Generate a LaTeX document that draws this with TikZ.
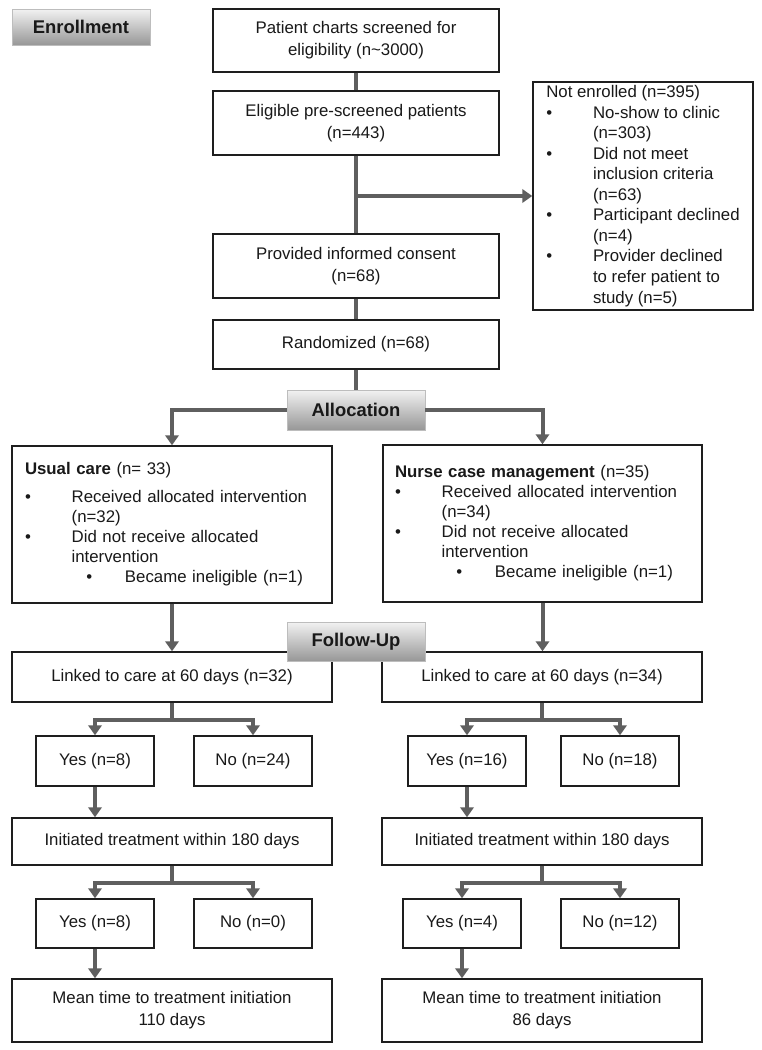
\documentclass[tikz,border=0pt]{standalone}
\usepackage{fontspec}
\setmainfont{Liberation Sans}
\usetikzlibrary{arrows.meta, positioning, calc}
\definecolor{linkgray}{HTML}{5F5F5F}
\definecolor{boxline}{HTML}{1E1E1E}
\definecolor{headtop}{HTML}{F2F2F2}
\definecolor{headbot}{HTML}{979797}
\definecolor{headline}{HTML}{BDBDBD}
\newcommand{\bitem}{\makebox[35pt][l]{•}}
\newcommand{\bcont}{\hspace*{35pt}}
\newcommand{\bsub}{\hspace*{46pt}\makebox[29pt][l]{•}}
\tikzset{
  flow/.style={
	x=0.75pt, y=-0.75pt, % one unit is one pixel of the sketch
	every node/.style={font=\fontsize{12.6}{16.5}\selectfont, text=black!90},
  },
  box/.style={draw=boxline, line width=1.1pt, fill=white, inner sep=0pt, align=center, minimum width=#1},
  box/.default=240pt,
  head/.style={draw=headline, line width=0.6pt, top color=headtop, bottom color=headbot, % grey stage labels
	font=\bfseries\fontsize{13.8}{16}\selectfont, inner sep=0pt, minimum width=103.5pt},
  conn/.style={draw=linkgray, line width=3pt},
  arr/.style={conn, -{Triangle[width=10pt,length=7.5pt]}}, % filled grey arrow heads
  bullets/.style={align=left, font=\fontsize{12.6}{15}\selectfont},
}

\begin{document}
\begin{tikzpicture}[flow]
\path[fill=white] (0,0) rectangle (762,1050);

% enrollment
\node[head, minimum height=27pt] (enroll) at (81,27) {Enrollment};
\node[box=214.5pt, minimum height=47.25pt] (screen) at (356,40.5) {Patient charts screened for\\eligibility (n\textasciitilde3000)};
\node[box=214.5pt, minimum height=48pt] (eligible) at (356,123) {Eligible pre-screened patients\\(n=443)};
\node[box=214.5pt, minimum height=48pt] (consent) at (356,266) {Provided informed consent\\(n=68)};
\node[box=214.5pt, minimum height=36.75pt] (random) at (356,344.5) {Randomized (n=68)};
\node[box=165pt, minimum height=171pt, align=left, font=\fontsize{12.6}{15.4}\selectfont] (notenr) at (643,196) {Not enrolled (n=395)\\
	\bitem No-show to clinic\\ \bcont (n=303)\\
	\bitem Did not meet\\ \bcont inclusion criteria\\ \bcont (n=63)\\
	\bitem Participant declined\\ \bcont (n=4)\\
	\bitem Provider declined\\ \bcont to refer patient to\\ \bcont study (n=5)};

% allocation
\node[head, minimum height=30pt] (alloc) at (356,410) {Allocation};
\node[box, bullets, text width=220.5pt, inner xsep=9.75pt, minimum height=117.75pt] (usual) at (172,524.5) {\textbf{Usual care} (n= 33)\\[6pt]
	\bitem Received allocated intervention\\ \bcont (n=32)\\
	\bitem Did not receive allocated\\ \bcont intervention\\
	\bsub Became ineligible (n=1)};
\node[box=239.25pt, bullets, text width=221.25pt, inner xsep=9pt, minimum height=117.75pt] (nurse) at (542.5,523.5) {\textbf{Nurse case management} (n=35)\\
	\bitem Received allocated intervention\\ \bcont (n=34)\\
	\bitem Did not receive allocated\\ \bcont intervention\\
	\bsub Became ineligible (n=1)};

% follow-up
\node[box, minimum height=37.5pt] (linkU) at (172,677) {Linked to care at 60 days (n=32)};
\node[box, minimum height=37.5pt] (linkN) at (542,677) {Linked to care at 60 days (n=34)};
\node[head, minimum height=29.25pt] (follow) at (356,641.5) {Follow-Up};
\node[box=88.5pt, minimum height=37.5pt] (yesU1) at (95,761) {Yes (n=8)};
\node[box=88.5pt, minimum height=37.5pt] (noU1) at (253,761) {No (n=24)};
\node[box=88.5pt, minimum height=37.5pt] (yesN1) at (467,761) {Yes (n=16)};
\node[box=88.5pt, minimum height=37.5pt] (noN1) at (620,761) {No (n=18)};
\node[box, minimum height=35.25pt] (initU) at (172,841.5) {Initiated treatment within 180 days};
\node[box, minimum height=35.25pt] (initN) at (542,841.5) {Initiated treatment within 180 days};
\node[box=88.5pt, minimum height=36.75pt] (yesU2) at (95,923.5) {Yes (n=8)};
\node[box=88.5pt, minimum height=36.75pt] (noU2) at (253,923.5) {No (n=0)};
\node[box=88.5pt, minimum height=36.75pt] (yesN2) at (462,923.5) {Yes (n=4)};
\node[box=88.5pt, minimum height=36.75pt] (noN2) at (620,923.5) {No (n=12)};
\node[box, minimum height=47.25pt] (meanU) at (172,1010.5) {Mean time to treatment initiation\\110 days};
\node[box, minimum height=47.25pt] (meanN) at (542,1010.5) {Mean time to treatment initiation\\86 days};

% connectors
\draw[conn] (screen) -- (eligible);
\draw[conn] (eligible) -- (consent);
\draw[arr] (eligible.south |- notenr.west) -- (notenr.west);
\draw[conn] (consent) -- (random);
\draw[conn] (random) -- (alloc);
\draw[arr] (alloc.west) -| (usual.north);
\draw[arr] (alloc.east) -| (nurse.north);
\draw[arr] (usual.south) -- (usual.south |- linkU.north);
\draw[arr] (nurse.south) -- (nurse.south |- linkN.north);
\foreach \top/\yes/\no/\next in {linkU/yesU1/noU1/initU, linkN/yesN1/noN1/initN, initU/yesU2/noU2/meanU, initN/yesN2/noN2/meanN}{
  \draw[conn] (\top.south) -- ++(0,17) coordinate (\top-split);
  \draw[arr] (\top-split) -| (\yes.north);
  \draw[arr] (\top-split) -| (\no.north);
  \draw[arr] (\yes.south) -- (\yes.south |- \next.north);
}
\end{tikzpicture}
\end{document}
